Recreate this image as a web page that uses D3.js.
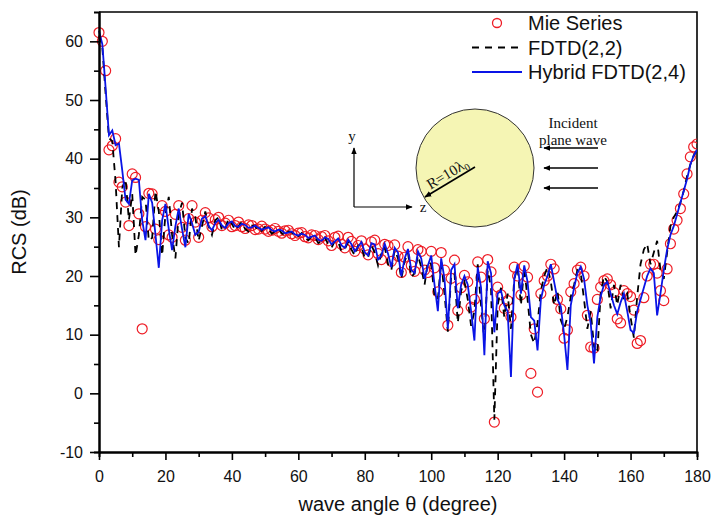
<!DOCTYPE html>
<html>
<head>
<meta charset="utf-8">
<script src="https://cdn.jsdelivr.net/npm/d3@7"></script>
<style>
  body { margin: 0; background: #fff; }
  svg { display: block; }
</style>
</head>
<body>
<div id="chart"></div>
<script>
// RCS of a dielectric cylinder, sampled every degree from 0 to 180
const mieSeries = [
  61.5, 60.0, 55.0, 41.5, 42.2, 43.4, 36.0, 35.2, 32.6, 28.6,
  37.4, 36.8, 30.6, 11.0, 28.4, 34.1, 34.0, 28.0, 26.2, 32.0,
  31.0, 27.0, 26.6, 30.5, 32.0, 28.3, 26.1, 29.8, 32.0, 29.2,
  26.6, 29.5, 30.8, 29.9, 28.4, 29.6, 30.0, 28.6, 29.0, 29.5,
  28.4, 28.6, 29.2, 28.4, 28.1, 28.7, 28.6, 27.9, 28.0, 28.5,
  28.0, 27.6, 27.8, 28.1, 27.6, 27.3, 27.7, 27.8, 27.2, 26.9,
  27.3, 27.4, 26.7, 26.5, 27.0, 26.9, 26.2, 26.7, 26.9, 26.0,
  25.2, 26.6, 26.8, 25.4, 24.8, 26.6, 25.9, 24.2, 25.2, 26.0,
  24.6, 23.6, 25.8, 26.1, 23.8, 22.8, 25.4, 25.2, 22.5, 25.3,
  23.4, 20.6, 23.2, 25.0, 21.8, 20.8, 24.5, 24.2, 21.0, 20.6,
  24.2, 21.4, 17.3, 24.0, 21.0, 11.6, 19.6, 22.7, 14.1, 18.0,
  20.1, 19.0, 14.7, 16.0, 22.4, 19.8, 12.7, 22.8, 20.7, -4.9,
  18.1, 16.8, 14.5, 15.8, 13.0, 21.5, 20.0, 16.8, 21.7, 19.8,
  3.4, 11.0, 0.2, 17.0, 19.2, 20.0, 22.0, 21.2, 16.0, 14.4,
  9.4, 10.8, 17.3, 18.7, 21.0, 21.5, 20.0, 13.3, 7.9, 7.7,
  16.0, 18.1, 19.2, 19.5, 18.5, 17.2, 12.7, 12.0, 17.5, 17.0,
  16.5, 14.2, 8.5, 9.0, 16.3, 20.0, 22.0, 22.0, 20.5, 17.5,
  15.8, 21.2, 25.5, 28.0, 29.5, 31.5, 34.0, 37.4, 40.3, 42.0,
  42.5
];

const fdtd22 = [
  61.0, 59.0, 51.0, 43.5, 43.0, 36.0, 24.9, 35.0, 36.5, 29.5,
  34.0, 23.5, 27.0, 33.5, 33.0, 26.0, 26.5, 34.5, 31.0, 23.5,
  30.5, 33.5, 27.0, 23.0, 30.5, 32.5, 26.5, 25.5, 31.5, 30.0,
  26.0, 28.5, 31.0, 28.5, 27.0, 29.5, 30.0, 27.8, 28.0, 29.8,
  28.9, 27.8, 28.5, 29.2, 28.0, 27.6, 28.6, 28.6, 27.5, 27.7,
  28.4, 28.0, 27.2, 27.6, 28.1, 27.3, 26.9, 27.6, 27.5, 26.6,
  26.8, 27.3, 26.5, 26.1, 26.8, 26.6, 25.6, 25.9, 26.5, 25.4,
  24.8, 26.0, 25.8, 24.2, 24.6, 25.8, 24.5, 23.5, 25.2, 25.0,
  23.0, 23.2, 25.2, 24.0, 21.8, 23.8, 25.0, 22.0, 21.0, 24.5,
  23.0, 19.5, 22.5, 24.0, 19.8, 20.5, 23.5, 21.5, 18.5, 22.5,
  22.0, 16.5, 16.0, 22.5, 17.0, 10.5, 20.0, 20.5, 12.0, 17.5,
  19.0, 16.0, 11.5, 14.0, 22.0, 15.0, 9.0, 21.0, 18.0, -4.5,
  15.0, 18.0, 13.0, 17.0, 11.0, 19.5, 21.5, 15.0, 21.5, 16.0,
  10.0, 8.5, 12.0, 17.5, 20.0, 21.5, 19.0, 15.0, 17.5, 12.5,
  11.0, 13.0, 16.5, 18.5, 21.0, 20.5, 16.0, 11.0, 14.0, 8.0,
  6.8, 17.0, 20.0, 19.0, 14.5, 18.5, 15.0, 18.5, 16.0, 17.0,
  13.0, 9.5, 16.5, 22.0, 24.5, 25.5, 22.0, 24.0, 26.0, 21.0,
  19.5, 24.0, 28.5, 30.0, 31.0, 32.5, 34.5, 37.0, 39.0, 40.5,
  41.5
];

const hybrid24 = [
  61.8, 59.5, 52.0, 44.0, 44.8, 42.3, 42.6, 38.0, 33.0, 32.3,
  36.3, 36.6, 36.4, 29.5, 26.1, 34.0, 32.5, 27.0, 21.4, 29.5,
  32.3, 28.0, 24.4, 28.5, 31.5, 28.0, 24.9, 30.6, 29.0, 27.0,
  27.5, 29.8, 30.2, 28.5, 27.8, 29.0, 29.6, 28.6, 28.2, 29.0,
  29.3, 28.5, 28.4, 28.9, 28.7, 28.2, 28.3, 28.6, 28.2, 27.9,
  28.1, 28.3, 27.8, 27.6, 27.9, 27.8, 27.3, 27.4, 27.6, 27.1,
  26.9, 27.2, 27.0, 26.5, 26.7, 26.9, 26.2, 26.0, 26.6, 26.3,
  25.4, 25.9, 26.4, 25.2, 24.8, 26.2, 25.4, 24.2, 25.0, 25.8,
  24.0, 23.5, 25.6, 25.4, 22.8, 23.5, 25.5, 23.8, 21.5, 24.8,
  24.0, 20.0, 23.0, 24.6, 21.0, 20.5, 24.2, 23.0, 19.5, 21.8,
  23.5, 18.5, 14.0, 23.0, 19.5, 11.0, 21.0, 22.0, 14.5, 18.5,
  20.0, 18.5, 14.0, 9.0, 21.5, 18.0, 6.5, 22.5, 20.5, 10.4,
  17.0, 17.5, 15.0, 14.0, 2.8, 19.5, 22.0, 17.0, 21.8, 19.0,
  13.0, 12.4, 7.3, 16.0, 18.5, 20.0, 22.0, 19.0, 16.0, 14.8,
  10.0, 4.0, 15.0, 18.0, 20.5, 21.6, 19.5, 15.0, 12.0, 5.1,
  13.0, 16.5, 18.5, 19.0, 17.0, 15.0, 13.5, 15.5, 17.0, 14.0,
  10.8, 10.3, 14.0, 16.0, 18.0, 20.0, 21.3, 20.5, 13.3, 17.0,
  21.0, 24.5, 27.0, 28.5, 30.5, 32.5, 34.5, 36.5, 39.0, 40.5,
  41.5
];

const angles = d3.range(0, 181);
const xTicks = [0, 20, 40, 60, 80, 100, 120, 140, 160, 180];
const yTicks = [-10, 0, 10, 20, 30, 40, 50, 60];
const legendLabels = ["Mie Series", "FDTD(2,2)", "Hybrid FDTD(2,4)"];

const width = 712, height = 518;
const margin = {top: 12, right: 15, bottom: 66, left: 99};
const innerW = width - margin.left - margin.right;
const innerH = height - margin.top - margin.bottom;

const svg = d3.select("#chart").append("svg")
    .attr("width", width)
    .attr("height", height)
    .style("font-family", "'Liberation Sans', Arial, sans-serif");

const x = d3.scaleLinear().domain([0, 180]).range([0, innerW]);
const y = d3.scaleLinear().domain([-10, 65]).range([innerH, 0]);

const g = svg.append("g").attr("transform", `translate(${margin.left},${margin.top})`);

g.append("clipPath").attr("id", "plot-clip")
  .append("rect").attr("x", -6).attr("y", 0).attr("width", innerW + 6).attr("height", innerH);

// frame (top and right)
g.append("path")
    .attr("d", `M0,0H${innerW}V${innerH}`)
    .attr("fill", "none")
    .attr("stroke", "#000")
    .attr("stroke-width", 1.6);

const plot = g.append("g").attr("clip-path", "url(#plot-clip)");

// Mie series circles
plot.selectAll("circle.mie")
  .data(mieSeries)
  .enter().append("circle")
    .attr("class", "mie")
    .attr("cx", (d, i) => x(angles[i]))
    .attr("cy", d => y(d))
    .attr("r", 5)
    .attr("fill", "none")
    .attr("stroke", "#ee1c25")
    .attr("stroke-width", 1.2);

const line = d3.line()
    .x((d, i) => x(angles[i]))
    .y(d => y(d));

plot.append("path")
    .datum(fdtd22)
    .attr("d", line)
    .attr("fill", "none")
    .attr("stroke", "#000")
    .attr("stroke-width", 1.8)
    .attr("stroke-dasharray", "7,6");

plot.append("path")
    .datum(hybrid24)
    .attr("d", line)
    .attr("fill", "none")
    .attr("stroke", "#0a14e6")
    .attr("stroke-width", 1.8);

// axes (plain hyphen for negatives, like the original)
const fmt = d => String(d);

g.append("g")
    .attr("transform", `translate(0,${innerH})`)
    .call(d3.axisBottom(x).tickValues(xTicks).tickSize(8).tickSizeOuter(0).tickPadding(11).tickFormat(fmt));
g.append("g")
    .attr("transform", `translate(0,${innerH})`)
    .call(d3.axisBottom(x).tickValues(d3.range(10, 180, 20)).tickSize(5).tickFormat(""));

g.append("g")
    .call(d3.axisLeft(y).tickValues(yTicks).tickSize(9).tickSizeOuter(0).tickPadding(7).tickFormat(fmt));
g.append("g")
    .call(d3.axisLeft(y).tickValues(d3.range(-5, 65, 10)).tickSize(5).tickFormat(""));

g.selectAll(".domain").attr("stroke", "#000").attr("stroke-width", 2);
g.selectAll(".tick line").attr("stroke-width", 1.6);
g.selectAll(".tick text")
    .style("font-size", "16px")
    .style("font-family", "'Liberation Sans', Arial, sans-serif")
    .attr("fill", "#111");

// axis titles
svg.append("text")
    .attr("x", margin.left + innerW / 2)
    .attr("y", 511)
    .attr("text-anchor", "middle")
    .style("font-size", "20px")
    .attr("fill", "#111")
    .text("wave angle θ (degree)");

svg.append("text")
    .attr("transform", `translate(26,${margin.top + innerH / 2}) rotate(-90)`)
    .attr("text-anchor", "middle")
    .style("font-size", "20px")
    .attr("fill", "#111")
    .text("RCS (dB)");

// legend
const legend = svg.append("g").attr("transform", "translate(472,23)");
legendLabels.forEach((label, i) => {
  const row = legend.append("g").attr("transform", `translate(0,${i * 24.5})`);
  if (i === 0) {
    row.append("circle").attr("cx", 25).attr("cy", 0).attr("r", 4.5)
        .attr("fill", "none").attr("stroke", "#ee1c25").attr("stroke-width", 1.3);
  } else {
    row.append("line").attr("x1", 0).attr("x2", 50).attr("y1", 0).attr("y2", 0)
        .attr("stroke", i === 1 ? "#000" : "#0a14e6")
        .attr("stroke-width", 1.8)
        .attr("stroke-dasharray", i === 1 ? "7,6" : null);
  }
  row.append("text").attr("x", 56).attr("y", 7)
      .style("font-size", "20px")
      .attr("fill", "#111")
      .text(label);
});

// inset sketch of the geometry
const inset = svg.append("g").style("font-family", "'Liberation Serif', 'Times New Roman', serif");
const defs = svg.append("defs");
defs.append("marker").attr("id", "arrow")
    .attr("viewBox", "0 0 10 10").attr("refX", 9).attr("refY", 5)
    .attr("markerWidth", 7).attr("markerHeight", 7)
    .attr("markerUnits", "userSpaceOnUse")
    .attr("orient", "auto")
  .append("path").attr("d", "M0,1L10,5L0,9Z").attr("fill", "#000");

inset.append("circle")
    .attr("cx", 475).attr("cy", 168).attr("r", 59)
    .attr("fill", "#f5f5b4")
    .attr("stroke", "#333")
    .attr("stroke-width", 1);

inset.append("line")
    .attr("x1", 475).attr("y1", 167).attr("x2", 425).attr("y2", 197)
    .attr("stroke", "#000").attr("stroke-width", 1.6)
    .attr("marker-end", "url(#arrow)");

const rText = inset.append("text")
    .attr("transform", "translate(450,178) rotate(-31)")
    .attr("text-anchor", "middle")
    .style("font-size", "15px")
    .attr("fill", "#111");
rText.append("tspan").text("R=10λ");
rText.append("tspan").attr("dy", 3).style("font-size", "10px").text("0");

// coordinate axes
inset.append("line").attr("x1", 354).attr("y1", 207).attr("x2", 354).attr("y2", 148)
    .attr("stroke", "#000").attr("stroke-width", 1.2).attr("marker-end", "url(#arrow)");
inset.append("line").attr("x1", 354).attr("y1", 207).attr("x2", 412).attr("y2", 207)
    .attr("stroke", "#000").attr("stroke-width", 1.2).attr("marker-end", "url(#arrow)");
inset.append("text").attr("x", 352).attr("y", 141).attr("text-anchor", "middle")
    .style("font-size", "15px").attr("fill", "#111").text("y");
inset.append("text").attr("x", 423).attr("y", 212).attr("text-anchor", "middle")
    .style("font-size", "15px").attr("fill", "#111").text("z");

// incident wave arrows
inset.append("text").attr("x", 573).attr("y", 128).attr("text-anchor", "middle")
    .style("font-size", "15px").attr("fill", "#111").text("Incident");
inset.append("text").attr("x", 573).attr("y", 145).attr("text-anchor", "middle")
    .style("font-size", "15px").attr("fill", "#111").text("plane wave");
[148, 168, 188].forEach(yy => {
  inset.append("line").attr("x1", 598).attr("y1", yy).attr("x2", 544).attr("y2", yy)
      .attr("stroke", "#000").attr("stroke-width", 1.4).attr("marker-end", "url(#arrow)");
});
</script>
</body>
</html>
